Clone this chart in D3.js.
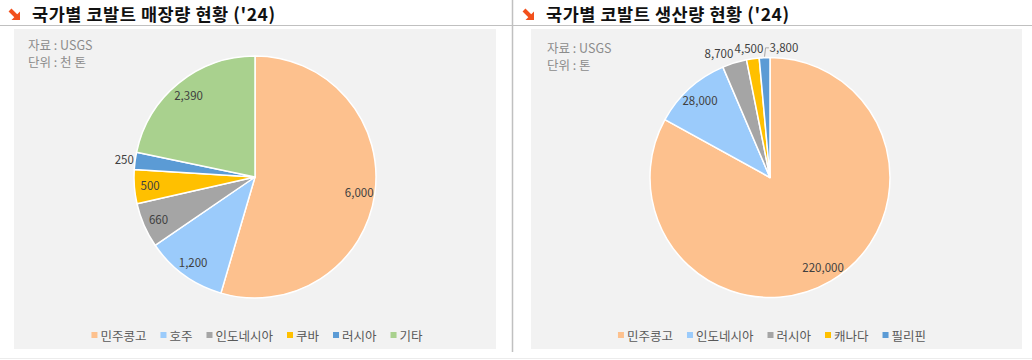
<!DOCTYPE html>
<html>
<head>
<meta charset="utf-8">
<script src="https://cdn.jsdelivr.net/npm/d3@7"></script>
<style>
  html, body { margin: 0; padding: 0; background: #ffffff; }
  svg { display: block; }
  text { font-family: "Noto Sans CJK KR", "Noto Sans", sans-serif; }
</style>
</head>
<body>
<svg id="chart" width="1032" height="360"></svg>
<script>
// ---- Data ----
const reserveTitle = "국가별 코발트 매장량 현황 ('24)";
const reserveNotes = ["자료 : USGS", "단위 : 천 톤"];
const reserveCountries = ["민주콩고", "호주", "인도네시아", "쿠바", "러시아", "기타"];
const reserveValues = [6000, 1200, 660, 500, 250, 2390];
const reserveColors = ["#FDC18E", "#9BCBFB", "#A5A5A5", "#FFC000", "#5B9BD5", "#A9D18E"];

const productionTitle = "국가별 코발트 생산량 현황 ('24)";
const productionNotes = ["자료 : USGS", "단위 : 톤"];
const productionCountries = ["민주콩고", "인도네시아", "러시아", "캐나다", "필리핀"];
const productionValues = [220000, 28000, 8700, 4500, 3800];
const productionColors = ["#FDC18E", "#9BCBFB", "#A5A5A5", "#FFC000", "#5B9BD5"];

// ---- Drawing ----
const svg = d3.select("#chart");
const fmt = d3.format(",");

// frame lines
svg.append("line").attr("x1", 0).attr("x2", 1032).attr("y1", 25.5).attr("y2", 25.5)
  .attr("stroke", "#c0c0c0").attr("stroke-width", 1.2);
svg.append("line").attr("x1", 512.5).attr("x2", 512.5).attr("y1", 0).attr("y2", 352)
  .attr("stroke", "#c0c0c0").attr("stroke-width", 1.5);
svg.append("line").attr("x1", 0).attr("x2", 1032).attr("y1", 358.5).attr("y2", 358.5)
  .attr("stroke", "#ececec").attr("stroke-width", 1);

function drawPanel(cfg) {
  const g = svg.append("g");
  // panel background
  g.append("rect").attr("x", cfg.bx).attr("y", 29).attr("width", cfg.bw).attr("height", 320)
    .attr("fill", "#f2f2f2");

  // title icon (orange arrow)
  const ix = cfg.tx - 23;
  const icon = g.append("g").attr("transform", `translate(${ix},9)`);
  icon.append("line").attr("x1", 1).attr("y1", 1).attr("x2", 7.5).attr("y2", 7.5)
    .attr("stroke", "#F2501C").attr("stroke-width", 4).attr("stroke-linecap", "butt");
  icon.append("path").attr("d", "M11,2.5 L11,11 L2.5,11 Z").attr("fill", "#F2501C");

  // title
  const tt = g.append("text").attr("x", cfg.tx).attr("y", 20.5)
    .attr("font-size", 17.5).attr("font-weight", 700).attr("fill", "#111")
    .text(cfg.title);
  tt.attr("textLength", cfg.tw).attr("lengthAdjust", "spacing");

  // notes
  cfg.notes.forEach((t, i) => {
    g.append("text").attr("x", cfg.nx).attr("y", cfg.ny + i * 17)
      .attr("font-size", 12.5).attr("fill", "#8c8c8c").text(t);
  });

  // pie
  const r = cfg.r;
  const pie = d3.pie().sort(null).value(d => d.v);
  const data = cfg.countries.map((c, i) => ({ c, v: cfg.values[i], col: cfg.colors[i] }));
  const arcs = pie(data);
  const arc = d3.arc().innerRadius(0).outerRadius(r);
  const pg = g.append("g").attr("transform", `translate(${cfg.cx},${cfg.cy})`);
  pg.selectAll("path.slice").data(arcs).enter().append("path")
    .attr("class", "slice")
    .attr("d", arc)
    .attr("fill", d => d.data.col)
    .attr("stroke", "#ffffff").attr("stroke-width", 1.5).attr("stroke-linejoin", "round");

  // labels
  const labels = arcs.map(a => {
    const mid = (a.startAngle + a.endAngle) / 2;
    const outside = (a.endAngle - a.startAngle) < 0.25;
    const k = outside ? 1.09 : 0.87;
    return {
      a, mid, outside,
      x0: Math.sin(mid) * r * k, y0: -Math.cos(mid) * r * k,
      x: Math.sin(mid) * r * k, y: -Math.cos(mid) * r * k,
      text: fmt(a.data.v), w: 28
    };
  });
  // spread overlapping outside labels horizontally around their mean
  const outs = labels.filter(l => l.outside).sort((p, q) => p.x0 - q.x0);
  if (outs.length > 1) {
    const spacing = 30;
    const mean = d3.mean(outs, l => l.x0);
    outs.forEach((l, i) => { l.x = mean + (i - (outs.length - 1) / 2) * spacing; });
  }
  labels.forEach(l => {
    const moved = Math.abs(l.x - l.x0);
    if (l.outside && moved > 14) {
      l.x += 5;
      l.leader = true;
    }
  });
  labels.forEach(l => {
    if (l.leader) {
      const ax = Math.sin(l.mid) * (r + 1), ay = -Math.cos(l.mid) * (r + 1);
      const ly = l.y + 1;
      pg.append("path")
        .attr("d", `M${ax},${ay} L${ax + 1},${ly} L${l.x - l.w / 2 - 1},${ly}`)
        .attr("fill", "none").attr("stroke", "#a6a6a6").attr("stroke-width", 1);
    }
    pg.append("text").attr("x", l.x).attr("y", l.y)
      .attr("text-anchor", "middle").attr("dominant-baseline", "central")
      .attr("font-family", "'Liberation Sans', Arial, sans-serif")
      .attr("font-size", 11.5).attr("fill", "#404040")
      .text(l.text);
  });

  // legend
  const lg = g.append("g").attr("transform", `translate(0,${cfg.ly})`);
  const items = lg.selectAll("g.item").data(data).enter().append("g").attr("class", "item");
  items.append("rect").attr("width", 6).attr("height", 6).attr("y", -3)
    .attr("fill", d => d.col);
  items.append("text").attr("x", 9).attr("y", 0).attr("dominant-baseline", "central")
    .attr("font-size", 12.5).attr("fill", "#595959").text(d => d.c);
  let xpos = 0;
  const positions = [];
  items.each(function () {
    const w = this.querySelector("text").getComputedTextLength();
    positions.push(xpos);
    xpos += 9 + w + 14;
  });
  const total = xpos - 14;
  const start = cfg.lcx - total / 2;
  items.attr("transform", (d, i) => `translate(${start + positions[i]},0)`);
}

drawPanel({
  bx: 14, bw: 482, tx: 32, tw: 243, title: reserveTitle, notes: reserveNotes, nx: 28, ny: 50,
  countries: reserveCountries, values: reserveValues, colors: reserveColors,
  cx: 255, cy: 177, r: 121, ly: 335, lcx: 257
});
drawPanel({
  bx: 531, bw: 491, tx: 546, tw: 243, title: productionTitle, notes: productionNotes, nx: 547, ny: 53,
  countries: productionCountries, values: productionValues, colors: productionColors,
  cx: 770, cy: 177.5, r: 120, ly: 335, lcx: 772
});
</script>
</body>
</html>
